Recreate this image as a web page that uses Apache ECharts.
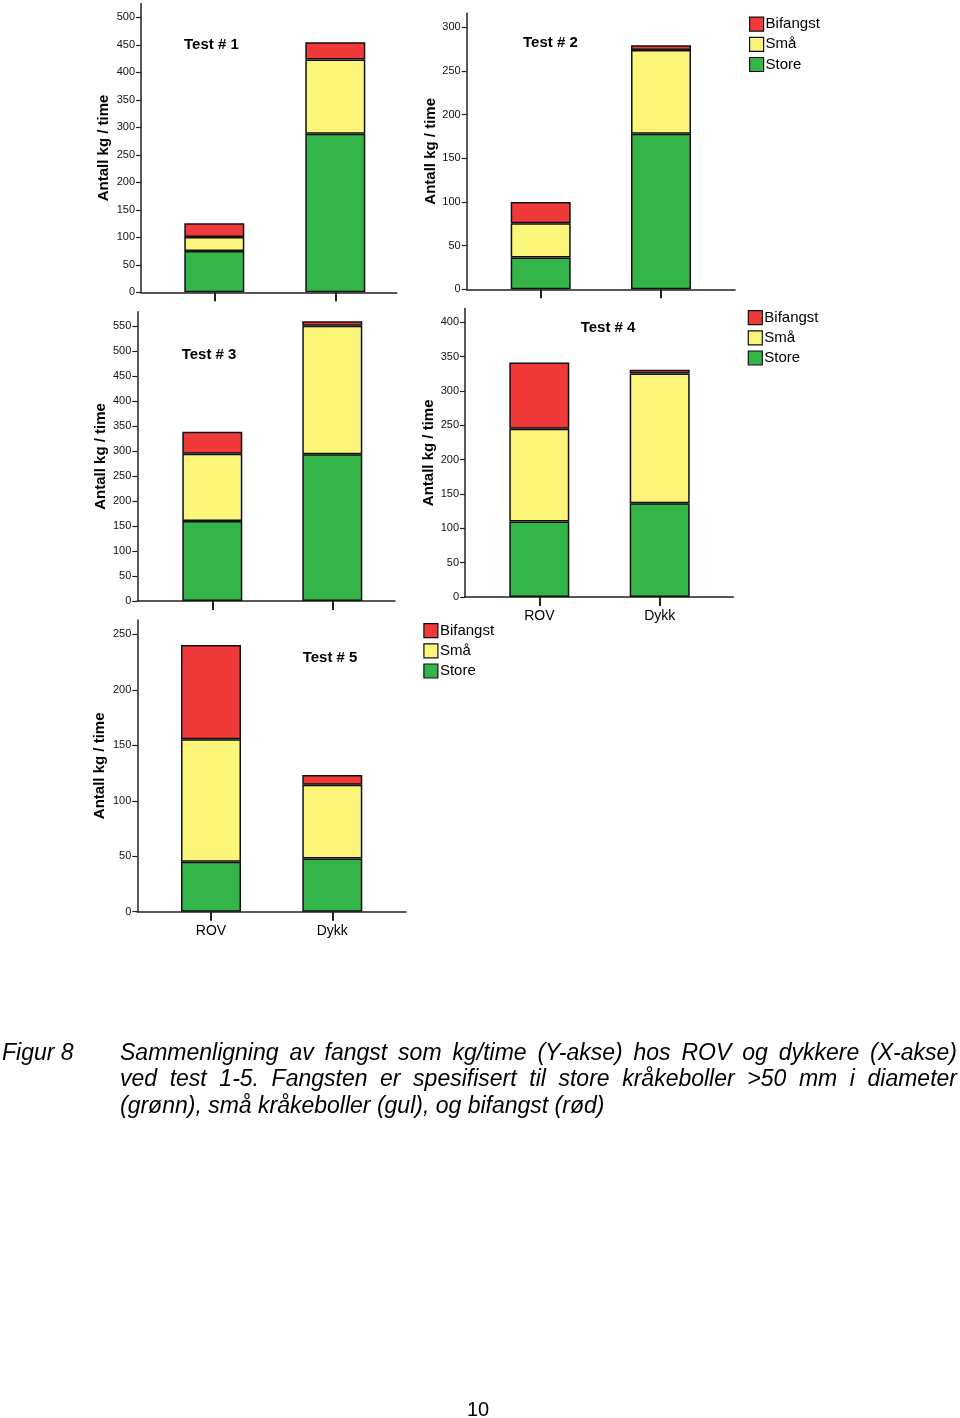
<!DOCTYPE html>
<html>
<head>
<meta charset="utf-8">
<script src="https://cdn.jsdelivr.net/npm/echarts@6/dist/echarts.min.js"></script>
<style>
html,body{margin:0;padding:0;background:#fff;}
#chart{width:960px;height:1418px;}
</style>
</head>
<body>
<div id="chart"></div>
<script>
// ---- data ----
const categories = ['ROV', 'Dykk'];
const testTitles = ['Test # 1', 'Test # 2', 'Test # 3', 'Test # 4', 'Test # 5'];
const seriesNames = ['Store', 'Små', 'Bifangst'];
// values per test: [ROV, Dykk]
const store    = [[75, 288], [36.5, 178], [160, 294], [110, 136.5], [45, 48]];
const sma      = [[25.5, 135], [39, 96], [135, 257], [135, 189], [110.5, 66.5]];
const bifangst = [[25, 31.5], [24.5, 5.5], [44, 9], [96.5, 5.5], [85, 8.7]];
const yTicks = [
  [0, 50, 100, 150, 200, 250, 300, 350, 400, 450, 500],
  [0, 50, 100, 150, 200, 250, 300],
  [0, 50, 100, 150, 200, 250, 300, 350, 400, 450, 500, 550],
  [0, 50, 100, 150, 200, 250, 300, 350, 400],
  [0, 50, 100, 150, 200, 250]
];
const yMax = [525, 316, 579, 420, 263];
const yTitle = 'Antall kg / time';
const captionLabel = 'Figur 8';
const captionLines = [
  'Sammenligning av fangst som kg/time (Y-akse) hos ROV og dykkere (X-akse)',
  'ved test 1-5. Fangsten er spesifisert til store kråkeboller >50 mm i diameter',
  '(grønn), små kråkeboller (gul), og bifangst (rød)'
];
const pageNumber = '10';

// ---- layout (pixels) ----
// frame: axis lines / y scale; bars: category band area
const layout = [
  {left: 141,   top: 3.5,   width: 255.7, height: 288.8, barLeft: 153.8,  barWidth: 242,   labels: false, nameGap: 30},
  {left: 466.7, top: 13.3,  width: 268.3, height: 276.0, barLeft: 480.55, barWidth: 240.6, labels: false, nameGap: 28.5},
  {left: 137.3, top: 311.8, width: 257.7, height: 289.2, barLeft: 152.3,  barWidth: 240,   labels: false, nameGap: 28.5},
  {left: 465,   top: 308.6, width: 268.3, height: 288.4, barLeft: 479.1,  barWidth: 240.8, labels: true,  nameGap: 28.5},
  {left: 137.3, top: 620.0, width: 268.7, height: 291.7, barLeft: 150.35, barWidth: 242.6, labels: true,  nameGap: 29.5}
];
const titlePos = [[184, 37], [523, 35], [181.7, 347], [580.7, 320], [302.7, 650.5]];
const colors = {'Store': '#33b54a', 'Små': '#fbf57a', 'Bifangst': '#f03a3a'};
const valuesByName = {'Store': store, 'Små': sma, 'Bifangst': bifangst};

const FONT = '"Liberation Sans", Arial, sans-serif';
const AXIS_COLOR = '#222';

const grids = [], xAxes = [], yAxes = [], series = [], titles = [];
layout.forEach((L, i) => {
  const gFrame = grids.length;
  grids.push({left: L.left, top: L.top, width: L.width, height: L.height});
  const gBars = grids.length;
  grids.push({left: L.barLeft, top: L.top, width: L.barWidth, height: L.height});

  // frame axes
  xAxes.push({
    type: 'value', gridIndex: gFrame, min: 0, max: 1,
    splitLine: {show: false}, axisTick: {show: false}, axisLabel: {show: false},
    axisLine: {show: true, onZero: false, lineStyle: {color: AXIS_COLOR, width: 1.5}}
  });
  yAxes.push({
    type: 'value', gridIndex: gFrame, min: 0, max: yMax[i],
    name: yTitle, nameLocation: 'middle', nameGap: L.nameGap,
    nameTextStyle: {fontSize: 15, fontWeight: 'bold', color: '#000', fontFamily: FONT},
    splitLine: {show: false},
    axisLine: {show: true, onZero: false, lineStyle: {color: AXIS_COLOR, width: 1.5}},
    axisTick: {show: true, length: 5, customValues: yTicks[i], lineStyle: {color: AXIS_COLOR, width: 1.2}},
    axisLabel: {show: true, customValues: yTicks[i], margin: 6, color: '#111', fontSize: 11, fontFamily: FONT}
  });
  // bar axes
  const xBar = xAxes.length;
  xAxes.push({
    type: 'category', gridIndex: gBars, data: categories, boundaryGap: true,
    axisLine: {show: false, onZero: false},
    axisTick: {show: true, alignWithLabel: true, length: 9, lineStyle: {color: AXIS_COLOR, width: 2}},
    axisLabel: {show: L.labels, margin: 12, color: '#000', fontSize: 14, fontFamily: FONT},
    splitLine: {show: false}
  });
  const yBar = yAxes.length;
  yAxes.push({type: 'value', gridIndex: gBars, min: 0, max: yMax[i], show: false, splitLine: {show: false}});

  seriesNames.forEach(name => {
    series.push({
      type: 'bar', name: name, xAxisIndex: xBar, yAxisIndex: yBar, stack: 'test' + i,
      barWidth: 60,
      itemStyle: {color: colors[name], borderColor: '#111', borderWidth: 1.5},
      emphasis: {disabled: true},
      data: valuesByName[name][i]
    });
  });
  titles.push({
    text: testTitles[i], left: titlePos[i][0], top: titlePos[i][1], padding: 0,
    textStyle: {fontSize: 15, fontWeight: 'bold', color: '#000', fontFamily: FONT}
  });
});

const legendNames = ['Bifangst', 'Små', 'Store'];
function mkLegend(left, top) {
  return {
    data: legendNames, orient: 'vertical', left: left, top: top, padding: 0,
    itemWidth: 14, itemHeight: 14, itemGap: 5, icon: 'rect', selectedMode: false,
    itemStyle: {borderColor: '#111', borderWidth: 1.2},
    textStyle: {fontSize: 15, color: '#000', fontFamily: FONT, padding: [0, 0, 0, -3]}
  };
}
const legends = [mkLegend(749, 16.5), mkLegend(747.7, 310), mkLegend(423.3, 623)];

// caption layout (justified text)
const CAP_FONT_SIZE = 23;
const capFont = 'italic ' + CAP_FONT_SIZE + 'px "Liberation Sans"';
const ctx = document.createElement('canvas').getContext('2d');
ctx.font = capFont;
const graphics = [];
function addText(txt, x, y) {
  graphics.push({
    type: 'text', x: x, y: y,
    style: {text: txt, font: capFont, fill: '#000', textAlign: 'left', textVerticalAlign: 'middle'}
  });
}
const capX0 = 120, capX1 = 957, capY = [1053.5, 1080, 1106.5];
captionLines.forEach((line, li) => {
  if (li < captionLines.length - 1) {
    const words = line.split(' ');
    const widths = words.map(w => ctx.measureText(w).width);
    const total = widths.reduce((a, b) => a + b, 0);
    const gap = (capX1 - capX0 - total) / (words.length - 1);
    let x = capX0;
    words.forEach((w, k) => { addText(w, x, capY[li]); x += widths[k] + gap; });
  } else {
    addText(line, capX0, capY[li]);
  }
});
addText(captionLabel, 2, capY[0]);
graphics.push({type: 'text', x: 478, y: 1410,
  style: {text: pageNumber, font: '20px "Liberation Sans"', fill: '#000', textAlign: 'center', textVerticalAlign: 'middle'}});

const chart = echarts.init(document.getElementById('chart'), null, {renderer: 'canvas'});
chart.setOption({
  backgroundColor: '#fff',
  animation: false,
  title: titles,
  legend: legends,
  grid: grids,
  xAxis: xAxes,
  yAxis: yAxes,
  series: series,
  graphic: graphics
});
</script>
</body>
</html>
